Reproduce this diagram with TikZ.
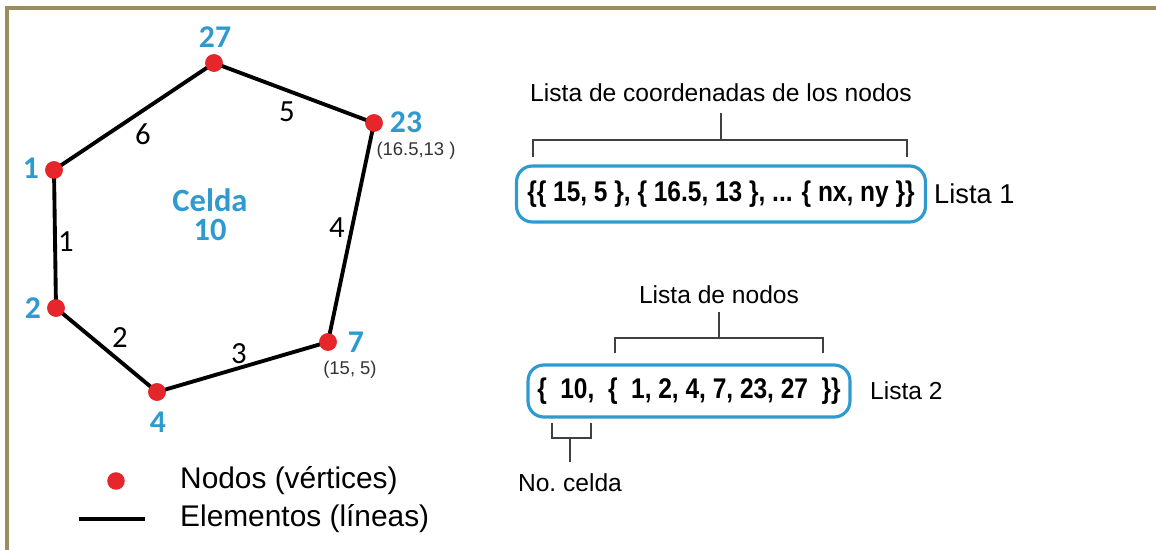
\documentclass[tikz,border=0pt]{standalone}
\usepackage{fontspec}
\usepackage{graphicx}
\setmainfont{Liberation Sans}
\newfontfamily\calibri{Carlito}
\usetikzlibrary{positioning}

\definecolor{celeste}{HTML}{2E9AD0}
\definecolor{rojo}{HTML}{E5262B}
\definecolor{marco}{HTML}{9A8F5A}

\tikzset{
  vertice/.style={circle,fill=rojo,inner sep=0pt,minimum size=10pt},
  arista/.style={line width=2.2pt},
  numnodo/.style={text=celeste,inner sep=0pt,font=\calibri\bfseries\fontsize{18}{18}\selectfont},
  numcelda/.style={numnodo,font=\calibri\bfseries\fontsize{18.5}{18.5}\selectfont},
  numarista/.style={font=\calibri\fontsize{17.5}{18}\selectfont},
  coordtxt/.style={text=black!80,font=\fontsize{10.5}{11}\selectfont},
  lista/.style={draw=celeste,line width=1.8pt,rounded corners=9pt,
    font=\bfseries\fontsize{16.2}{17}\selectfont},
  llave/.style={draw=black!75,line width=0.8pt},
  texto/.style={font=\fontsize{14}{14}\selectfont},
  leyenda/.style={font=\fontsize{17}{17}\selectfont}
}

\begin{document}
\begin{tikzpicture}[x=0.02cm,y=-0.02cm]

  \useasboundingbox (0,0) rectangle (1156,550);

  % Frame
  \draw[marco,line width=2.3pt] (7,550) -- (7,8) -- (1156,8);

  % Cell vertices
  \node[vertice] (n27) at (214,63) {};
  \node[vertice] (n23) at (374,123) {};
  \node[vertice] (n1) at (54,170) {};
  \node[vertice] (n2) at (56,308) {};
  \node[vertice] (n4) at (157,392) {};
  \node[vertice] (n7) at (328,342) {};

  \draw[arista,line cap=round]
    (n1.center) -- (n27.center) -- (n23.center) -- (n7.center)
    -- (n4.center) -- (n2.center) -- cycle;
  \foreach \v in {27,23,1,2,4,7}
    \node[vertice] at (n\v) {};

  % Node numbers
  \node[numnodo] (l27) at (215,37) {27};
  \node[numnodo] (l23) at (406,122) {23};
  \node[numnodo] (l1) at (31,168) {1};
  \node[numnodo] (l2) at (33,308) {2};
  \node[numnodo] (l4) at (158,422) {4};
  \node[numnodo] (l7) at (356,342) {7};
  \node[coordtxt] (c23) at (416,151) {(16.5,13 )};
  \node[coordtxt] (c7) at (350,370) {(15, 5)};

  % Element numbers
  \node[numarista] (e1) at (66,242) {1};
  \node[numarista] (e2) at (120,338) {2};
  \node[numarista] (e3) at (239,354) {3};
  \node[numarista] (e4) at (337,228) {4};
  \node[numarista] (e5) at (287,112) {5};
  \node[numarista] (e6) at (143,134) {6};

  \node[numcelda] (celda) at (210,200) {Celda};
  \node[numcelda] (celdanum) at (210,230) {10};

  % Legend
  \node[vertice] (leyn) at (116,481) {};
  \node[leyenda,anchor=west] (leyntxt) at (174,481) {Nodos (vértices)};
  \coordinate (leya) at (79,519);
  \coordinate (leyb) at (145,519);
  \draw[arista] (leya) -- (leyb);
  \node[leyenda,anchor=west] (leyetxt) at (174,519) {Elementos (líneas)};

  % Lista 1
  \node[lista,minimum width=8.18cm,minimum height=1.12cm] (lista1) at (721,194)
    {\scalebox{0.86}[1]{\{\{ 15, 5 \}, \{ 16.5, 13 \}, ... \{ nx, ny \}\}}};
  \node[texto,anchor=west,font=\fontsize{15.5}{15.5}\selectfont] (nom1) at (928,194) {Lista 1};
  \node[texto] (tit1) at (721,93) {Lista de coordenadas de los nodos};
  \coordinate (b1a) at (533,157);
  \coordinate (b1b) at (907,157);
  \draw[llave] (b1a) |- (tit1.south |- 0,140) -| (b1b);
  \draw[llave] (tit1.south |- 0,140) -- (tit1.south |- 0,113);

  % Lista 2
  \node[lista,minimum width=6.44cm,minimum height=1.04cm] (lista2) at (689,391)
    {\scalebox{0.86}[1]{\{\ \ 10,\ \ \{\ \ 1, 2, 4, 7, 23, 27\ \ \}\}}};
  \node[texto,anchor=west] (nom2) at (864,391) {Lista 2};
  \node[texto] (tit2) at (719,295) {Lista de nodos};
  \coordinate (b2a) at (615,353);
  \coordinate (b2b) at (823,353);
  \draw[llave] (b2a) |- (tit2.south |- 0,338) -| (b2b);
  \draw[llave] (tit2.south |- 0,338) -- (tit2.south |- 0,312);

  % Cell number
  \node[texto] (tit3) at (570,483) {No.\ celda};
  \coordinate (b3a) at (552,423);
  \coordinate (b3b) at (591,423);
  \draw[llave] (b3a) |- (tit3.north |- 0,438) -| (b3b);
  \draw[llave] (tit3.north |- 0,438) -- (tit3.north |- 0,462);

\end{tikzpicture}
\end{document}
